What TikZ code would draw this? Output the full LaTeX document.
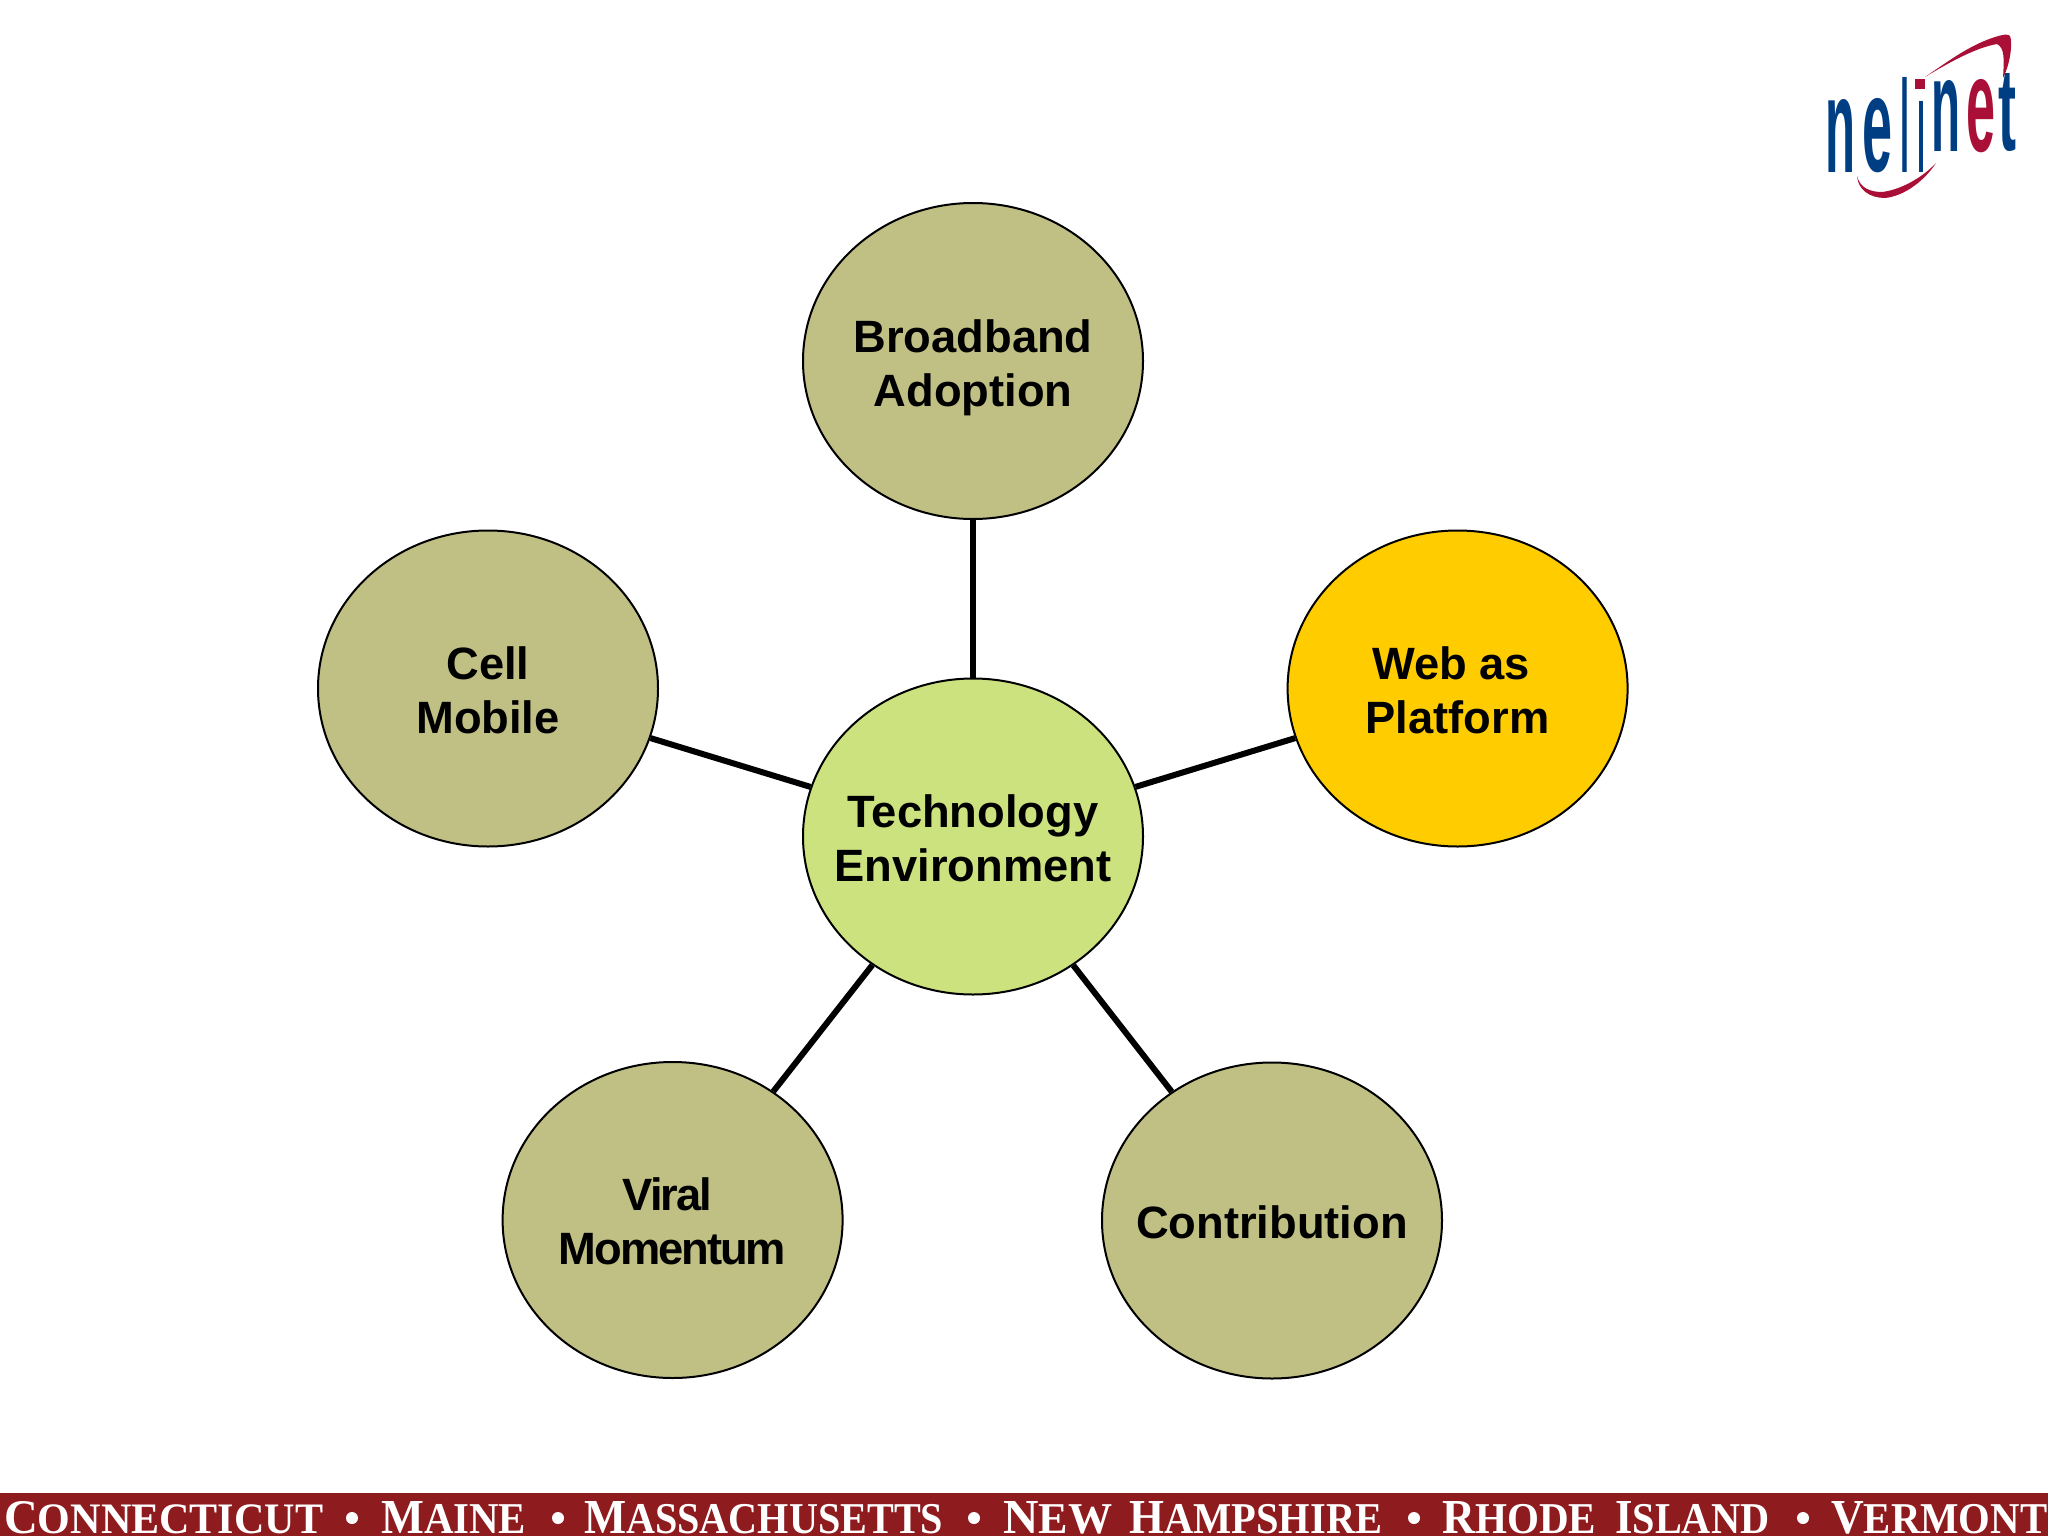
\documentclass[tikz,border=0pt]{standalone}
\usepackage{fontspec}
\usepackage{graphicx}
\setmainfont{Liberation Sans}
\newfontfamily\bannerfont{Liberation Serif}
\usetikzlibrary{shapes.geometric}
\definecolor{olive}{RGB}{192,192,133}
\definecolor{lime}{RGB}{204,226,127}
\definecolor{amber}{RGB}{255,204,0}
\definecolor{bannerred}{RGB}{142,27,30}
\definecolor{logoblue}{RGB}{0,62,132}
\definecolor{logored}{RGB}{170,16,55}
\newcommand{\fitbox}[3]{\resizebox{#1pt}{#2pt}{#3}}
\newcommand{\capword}[2]{{\fontsize{30}{30}\selectfont #1}{\fontsize{27}{27}\selectfont #2}}
\newcommand{\bubbletext}[2][-8pt]{\raisebox{#1}[0pt][0pt]{\makebox[0pt]{\parbox[c]{400pt}{\centering #2}}}}
\tikzset{
  bubble/.style={ellipse,draw=black,line width=2pt,minimum width=340pt,minimum height=316pt,inner sep=0pt,
    font=\fontsize{45.3}{54}\selectfont\bfseries},
  spoke/.style={line width=6pt,draw=black},
  bannerword/.style={anchor=south west,inner sep=0pt,text=white,font=\bannerfont\bfseries},
  bannerdot/.style={circle,fill=white,inner sep=0pt,minimum size=12pt},
  logoword/.style={anchor=south west,inner sep=0pt,font=\bfseries},
}
\begin{document}
\begin{tikzpicture}[x=1pt,y=-1pt]
\useasboundingbox (0,0) rectangle (2048,1536);
\fill[white] (0,0) rectangle (2048,1536);
\node[bubble,fill=lime] (tech) at (973,836.5) {\bubbletext{Technology\\Environment}};
\node[bubble,fill=olive] (broad) at (973,361) {\bubbletext[-13pt]{Broadband\\Adoption}};
\node[bubble,fill=olive] (cell) at (488,688.5) {\bubbletext{Cell\\Mobile}};
\node[bubble,fill=amber] (web) at (1457.6,688.5) {\bubbletext{Web as\kern13pt\mbox{}\\Platform}};
\node[bubble,fill=olive] (viral) at (672.6,1220) {\bubbletext{\addfontfeature{LetterSpace=-4.5}Viral\kern10pt\mbox{}\\Momentum}};
\node[bubble,fill=olive] (contrib) at (1272,1220.5) {\bubbletext{Contribution}};
\draw[spoke] (tech) -- (broad);
\draw[spoke] (tech) -- (cell);
\draw[spoke] (tech) -- (web);
\draw[spoke] (tech) -- (viral);
\draw[spoke] (tech) -- (contrib);
% banner
\fill[bannerred] (0,1493) rectangle (2048,1536);
\node[bannerword] at (4,1534) {\fitbox{319}{32}{\capword{C}{ONNECTICUT}}};
\node[bannerdot] at (352,1518) {};
\node[bannerword] at (381,1534) {\fitbox{145}{32}{\capword{M}{AINE}}};
\node[bannerdot] at (558,1518) {};
\node[bannerword] at (584,1534) {\fitbox{359}{32}{\capword{M}{ASSACHUSETTS}}};
\node[bannerdot] at (974,1518) {};
\node[bannerword] at (1003,1534) {\fitbox{109}{32}{\capword{N}{EW}}};
\node[bannerword] at (1129,1534) {\fitbox{253}{32}{\capword{H}{AMPSHIRE}}};
\node[bannerdot] at (1414,1518) {};
\node[bannerword] at (1442,1534) {\fitbox{154}{32}{\capword{R}{HODE}}};
\node[bannerword] at (1615,1534) {\fitbox{154}{32}{\capword{I}{SLAND}}};
\node[bannerdot] at (1803,1518) {};
\node[bannerword] at (1831,1534) {\fitbox{216}{32}{\capword{V}{ERMONT}}};
% logo
\fill[logored] (1925,77) .. controls (1950,60) and (1970,45) .. (1995,37)
  .. controls (2005,34) and (2008,34) .. (2010,36)
  .. controls (2012,40) and (2012,60) .. (2003,78)
  .. controls (2004,60) and (2005,48) .. (1997,44)
  .. controls (1975,48) and (1950,62) .. (1925,77) -- cycle;
\fill[logored] (1857,176) .. controls (1858,190) and (1870,198) .. (1885,198)
  .. controls (1905,196) and (1925,180) .. (1936,163)
  .. controls (1922,178) and (1900,190) .. (1882,192)
  .. controls (1870,192) and (1860,188) .. (1857,176) -- cycle;
\fill[logored] (1915,79) rectangle (1925,89);
\node[logoword,text=logoblue] at (1825,173) {\fitbox{30}{73}{n}};
\node[logoword,text=logoblue] at (1862,173) {\fitbox{30}{73}{e}};
\node[logoword,text=logoblue] at (1900,173) {\fitbox{9}{95}{l}};
\node[logoword,text=logoblue] at (1917,173) {\fitbox{8}{71}{ı}};
\node[logoword,text=logoblue] at (1931,152) {\fitbox{29}{71}{n}};
\node[logoword,text=logored] at (1966,153) {\fitbox{29}{72}{e}};
\node[logoword,text=logoblue] at (1998,152) {\fitbox{18}{77}{t}};
\end{tikzpicture}
\end{document}
